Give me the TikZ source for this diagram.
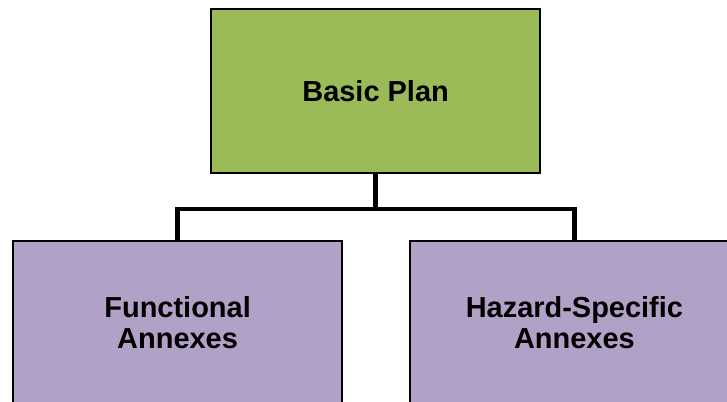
\documentclass[tikz,border=0pt]{standalone}
\usepackage{fontspec}
\setmainfont{Liberation Sans}
\usetikzlibrary{positioning, calc}

\definecolor{plangreen}{HTML}{9BBB59}
\definecolor{annexpurple}{HTML}{B2A1C7}

\begin{document}
\begin{tikzpicture}[
    box/.style={draw, line width=0.9pt, minimum width=8.225cm, minimum height=4.1cm, align=center, font=\fontsize{20.6}{22}\selectfont\bfseries},
    link/.style={line width=3pt}
]
\useasboundingbox (0,0) rectangle (18.175,10.05);
\clip (0,0) rectangle (18.175,10.05);

\node[box, fill=plangreen] (plan) at (9.39,7.775) {Basic Plan};
\node[box, fill=annexpurple] (func) at (4.44,1.975) {Functional\\Annexes};
\node[box, fill=annexpurple] (haz) at (14.36,1.975) {Hazard-Specific\\Annexes};

\coordinate (fork) at ($(plan.south)+(0,-0.875)$);
\draw[link] (plan.south) -- (fork) -| (func.north);
\draw[link] (fork) -| (haz.north);
\end{tikzpicture}
\end{document}
